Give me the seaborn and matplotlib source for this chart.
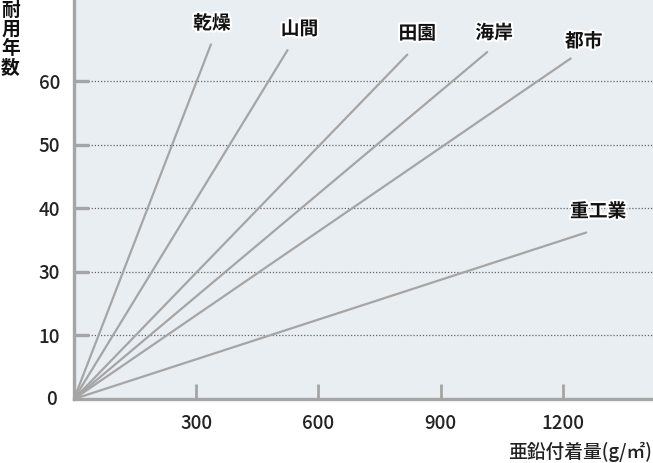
import pandas as pd
import matplotlib
matplotlib.use("Agg")
import matplotlib.pyplot as plt
import matplotlib.patheffects as pe
import seaborn as sns

# 環境ごとの亜鉛めっき耐用年数 (線は原点から各終点まで)
regions = ["乾燥", "山間", "田園", "海岸", "都市", "重工業"]
end_zinc = [336, 524, 818, 1014, 1219, 1257]      # g/㎡
end_years = [55.8, 54.9, 54.2, 54.6, 53.6, 26.2]  # 軸上の位置

x_ticks = [300, 600, 900, 1200]
y_ticks = [0, 10, 20, 30, 40, 50]
y_tick_labels = ["0", "10", "30", "40", "50", "60"]

gray = "#a5a5a5"
fs = 13.5
sns.set_style("white")
plt.rcParams["font.family"] = ["Noto Sans CJK JP", "DejaVu Sans"]

rows = []
for r, x, y in zip(regions, end_zinc, end_years):
    rows.append({"region": r, "zinc": 0, "years": 0})
    rows.append({"region": r, "zinc": x, "years": y})
df = pd.DataFrame(rows)

fig = plt.figure(figsize=(6.53, 4.63), dpi=100)
ax = fig.add_axes([0.1133, 0.1382, 0.8867, 0.8618])
ax.set_facecolor("#e9eef3")

# 点線の目盛線
for y in y_ticks[1:]:
    ax.axhline(y, xmin=0.025, color="#666666", lw=0.9, ls=(0, (1, 1.5)), zorder=1)

sns.lineplot(data=df, x="zinc", y="years", units="region", estimator=None,
             color=gray, lw=1.6, ax=ax, zorder=2)

# 目盛 (内向きの短い棒)
ax.vlines(x_ticks, 0, 0.037, transform=ax.get_xaxis_transform(), color=gray,
          lw=2.0, zorder=3)
ax.hlines(y_ticks[1:], 0, 0.026, transform=ax.get_yaxis_transform(), color=gray,
          lw=2.4, zorder=3)

# ラベル (終点からのずれ, px)
offsets = [(1, 21), (12, 21), (10, 21), (7, 19), (13, 17), (12, 21)]
for r, x, y, (dx, dy) in zip(regions, end_zinc, end_years, offsets):
    ax.annotate(r, (x, y), xytext=(dx * 0.72, dy * 0.72), textcoords="offset points",
                ha="center", va="center", fontsize=fs, fontweight="bold", color="#111111",
                path_effects=[pe.withStroke(linewidth=3, foreground="white")], zorder=5)

ax.set_xlim(0, 1421)
ax.set_ylim(0, 62.8)
ax.set_xticks(x_ticks)
ax.set_yticks(y_ticks[1:])
ax.set_yticklabels(y_tick_labels[1:])
ax.tick_params(axis="both", length=0, labelsize=fs, labelcolor="#222222")
ax.tick_params(axis="x", pad=11)
ax.tick_params(axis="y", pad=10)
for lab in ax.get_xticklabels() + ax.get_yticklabels():
    lab.set_fontweight("medium")
ax.text(-0.03, 0, "0", transform=ax.get_yaxis_transform(), ha="right", va="center",
        fontsize=fs, fontweight="medium", color="#222222")

for s in ["top", "right"]:
    ax.spines[s].set_visible(False)
for s in ["left", "bottom"]:
    ax.spines[s].set_color(gray)
    ax.spines[s].set_linewidth(2.4)
    ax.spines[s].set_zorder(4)

ax.set_xlabel("")
ax.set_ylabel("")
fig.text(0.016, 0.998, "耐\n用\n年\n数", ha="center", va="top", fontsize=fs,
         fontweight="bold", linespacing=1.0, color="#111111")
fig.text(0.998, 0.025, "亜鉛付着量(g/㎡)", ha="right", va="center", fontsize=fs,
         fontweight="medium", color="#222222")

fig.savefig("out.png", dpi=100, facecolor="white")
